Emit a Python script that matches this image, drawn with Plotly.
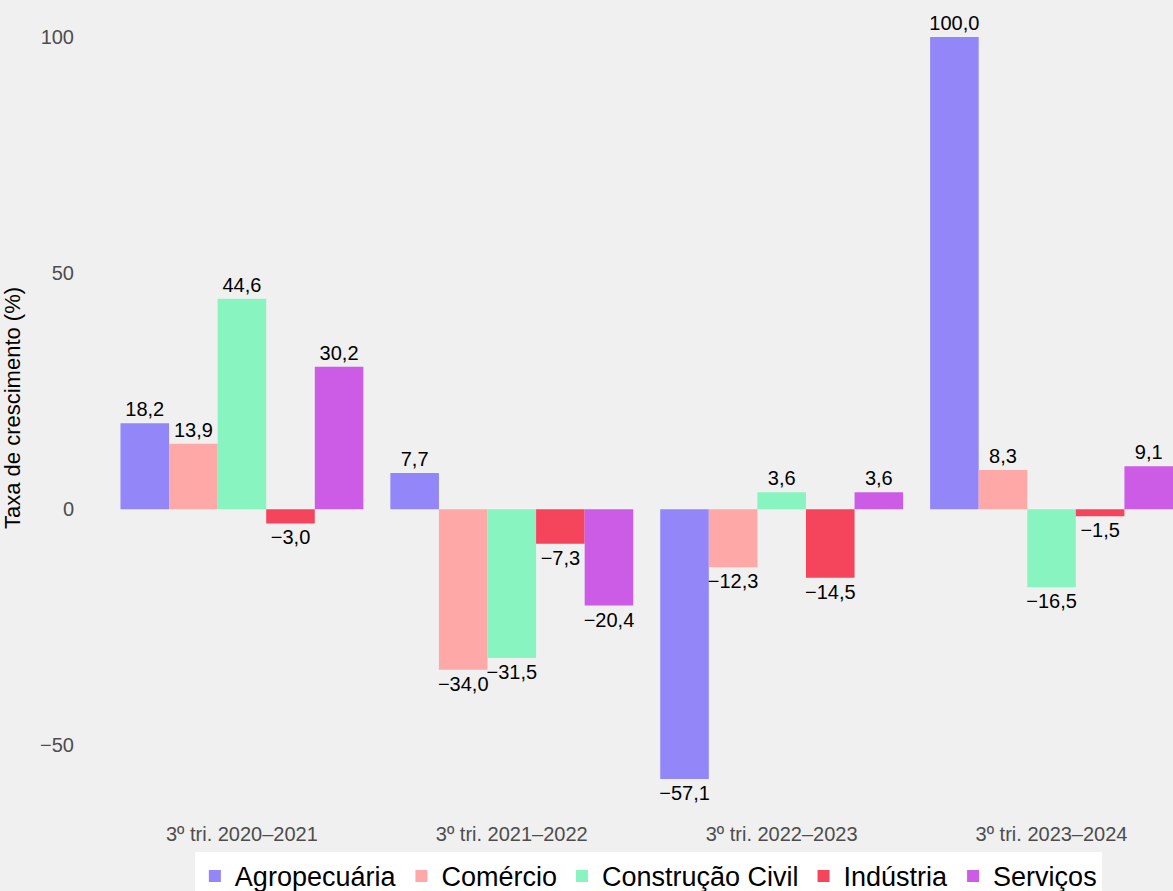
import plotly.graph_objects as go

periods = ["3º tri. 2020–2021", "3º tri. 2021–2022", "3º tri. 2022–2023", "3º tri. 2023–2024"]
sectors = ["Agropecuária", "Comércio", "Construção Civil", "Indústria", "Serviços"]
agropecuaria = [18.2, 7.7, -57.1, 100.0]
comercio = [13.9, -34.0, -12.3, 8.3]
construcao = [44.6, -31.5, 3.6, -16.5]
industria = [-3.0, -7.3, -14.5, -1.5]
servicos = [30.2, -20.4, 3.6, 9.1]
series = [agropecuaria, comercio, construcao, industria, servicos]
colors = ["#9386F9", "#FFA8A8", "#88F5C0", "#F5455C", "#CC5CE5"]
y_ticks = [-50, 0, 50, 100]


def fmt(v):
    s = f"{abs(v):.1f}".replace(".", ",")
    return ("\u2212" + s) if v < 0 else s


fig = go.Figure()
for name, vals, col in zip(sectors, series, colors):
    fig.add_trace(go.Bar(
        x=periods, y=vals, name=name, marker=dict(color=col, line=dict(width=0)),
        text=[fmt(v) for v in vals], textposition="outside", cliponaxis=False,
        constraintext="none",
        textfont=dict(family="Liberation Sans, Arial, sans-serif", size=20, color="black"),
    ))

fig.update_layout(
    width=1173, height=891,
    barmode="group", bargap=0.1, bargroupgap=0,
    paper_bgcolor="#F0F0F0", plot_bgcolor="#F0F0F0",
    margin=dict(l=80, r=0, t=0, b=75, autoexpand=False),
    font=dict(family="Liberation Sans, Arial, sans-serif"),
    showlegend=True,
    legend=dict(orientation="h", x=0.52, xanchor="center", y=-0.044, yanchor="top",
                bgcolor="white", font=dict(size=27, color="black"),
                itemwidth=30, tracegroupgap=0),
    xaxis=dict(type="category", range=[-0.6, 3.45], showgrid=False, zeroline=False,
               ticks="", tickfont=dict(size=20, color="#4D4D4D"), ticklabelstandoff=4),
    yaxis=dict(range=[-64.96, 107.86], tickvals=y_ticks,
               ticktext=[("\u2212" + str(abs(t))) if t < 0 else str(t) for t in y_ticks],
               showgrid=False, zeroline=False, ticks="",
               tickfont=dict(size=20, color="#4D4D4D"), ticklabelstandoff=5,
               title=dict(text="Taxa de crescimento (%)", font=dict(size=22, color="black"), standoff=14)),
)

fig.write_html("out.html", config={"displayModeBar": False},
               post_script="document.body.style.margin='0px';")
